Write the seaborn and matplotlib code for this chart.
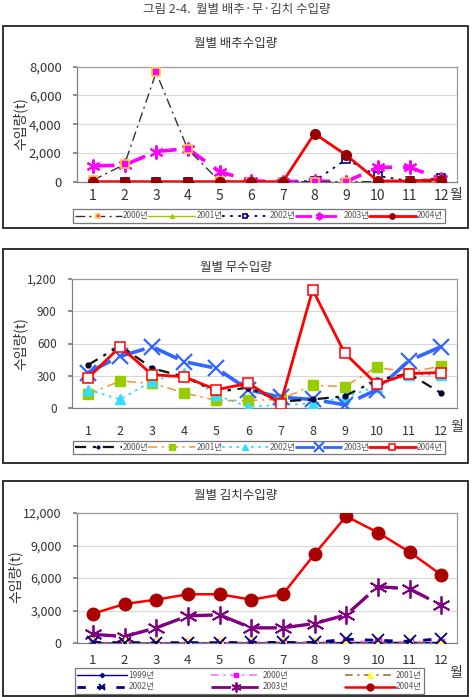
import matplotlib
matplotlib.use("Agg")
import matplotlib.pyplot as plt
import seaborn as sns
from matplotlib.ticker import FuncFormatter, FixedLocator

# =============================
# Data
# =============================
months = list(range(1, 13))
month_labels = [str(m) for m in months]

# 월별 배추수입량 (t)
cabbage_2000 = [100, 1200, 7600, 2250, 50, 0, 0, 0, 0, 0, 0, 0]
cabbage_2001 = [0, 0, 0, 0, 0, 0, 0, 0, 0, 0, 0, 0]
cabbage_2002 = [0, 0, 0, 0, 0, 0, 0, 50, 1550, 400, 50, 250]
cabbage_2003 = [1100, 1150, 2100, 2300, 700, 50, 0, 50, 0, 1000, 1000, 200]
cabbage_2004 = [0, 0, 0, 0, 0, 0, 0, 3350, 1850, 50, 50, 150]

# 월별 무수입량 (t)
radish_2000 = [400, 580, 370, 290, 150, 190, 60, 80, 110, 260, 320, 140]
radish_2001 = [130, 250, 230, 140, 70, 70, 80, 210, 200, 380, 330, 390]
radish_2002 = [170, 80, 250, 330, 120, 10, 30, 40, 100, 200, 310, 310]
radish_2003 = [330, 480, 570, 430, 370, 170, 100, 80, 30, 170, 440, 570]
radish_2004 = [280, 570, 310, 290, 170, 230, 40, 1100, 510, 220, 320, 330]

# 월별 김치수입량 (t)
kimchi_1999 = [0, 0, 0, 0, 0, 0, 0, 0, 50, 50, 50, 50]
kimchi_2000 = [50, 50, 50, 50, 50, 100, 100, 100, 150, 150, 100, 100]
kimchi_2001 = [0, 0, 0, 0, 0, 0, 0, 0, 0, 0, 0, 0]
kimchi_2002 = [50, 30, 30, 30, 30, 50, 50, 50, 350, 250, 150, 400]
kimchi_2003 = [800, 600, 1400, 2500, 2600, 1400, 1400, 1800, 2600, 5200, 5000, 3500]
kimchi_2004 = [2700, 3600, 4000, 4500, 4500, 4000, 4500, 8200, 11700, 10200, 8400, 6300]

fig_title = "그림 2-4.  월별 배추·무·김치 수입량"
panel_titles = ["월별 배추수입량", "월별 무수입량", "월별 김치수입량"]
ylabel = "수입량(t)"

# =============================
# Style
# =============================
sns.set_theme(style="white")
plt.rcParams["font.family"] = ["Noto Sans CJK KR", "DejaVu Sans"]
plt.rcParams["axes.unicode_minus"] = False
TXT = "#333333"

W, H = 473, 697
fig = plt.figure(figsize=(W / 100, H / 100), dpi=100)
fig.patch.set_facecolor("white")


def frac_rect(l, t, r, b):
    return [l / W, 1 - b / H, (r - l) / W, (b - t) / H]


def border(l, t, r, b):
    fig.add_artist(plt.Rectangle((l / W, 1 - b / H), (r - l) / W, (b - t) / H,
                                 transform=fig.transFigure, fill=False,
                                 edgecolor="#222222", lw=1.3))


def draw_series(ax, series):
    for s in series:
        sns.lineplot(x=months, y=s["y"], ax=ax, color=s["color"], lw=s["lw"],
                     linestyle=s["ls"], marker=s["marker"], markersize=s["ms"],
                     markerfacecolor=s["mfc"], markeredgecolor=s["mec"],
                     markeredgewidth=s.get("mew", 1.0), label=s["label"],
                     legend=False, zorder=s.get("z", 3))


def style_axes(ax, ymax, ystep, tick_fs, xpad):
    ax.set_xlim(0.5, 12.5)
    ax.set_ylim(0, ymax)
    yt = list(range(0, ymax + 1, ystep))
    ax.yaxis.set_major_locator(FixedLocator(yt))
    ax.yaxis.set_major_formatter(FuncFormatter(lambda v, p: f"{v:,.0f}"))
    ax.set_xticks(months)
    ax.set_xticklabels(month_labels)
    ax.set_xticks([m + 0.5 for m in range(0, 13)], minor=True)
    ax.tick_params(axis="x", which="major", length=0, pad=xpad, labelsize=tick_fs + 0.5, colors=TXT)
    ax.tick_params(axis="x", which="minor", length=3, color="#808080", direction="out")
    ax.tick_params(axis="y", which="major", length=3, color="#808080", pad=8,
                   labelsize=tick_fs, colors=TXT, left=True)
    ax.grid(True, axis="y", color="#D8D8D8", lw=0.8)
    ax.set_axisbelow(True)
    for sp in ax.spines.values():
        sp.set_visible(True)
        sp.set_color("#9A9A9A")
        sp.set_linewidth(0.9)
    ax.spines["left"].set_color("#808080")
    ax.spines["bottom"].set_color("#808080")
    ax.set_xlabel("")
    ax.set_ylabel("")


def add_legend(ax, order, l, t, r, b, ncol, hlen, lspace=0.15):
    handles, labels = ax.get_legend_handles_labels()
    lut = dict(zip(labels, handles))
    leg = ax.legend([lut[k] for k in order], order, loc="center",
                    bbox_to_anchor=frac_rect(l, t, r, b), bbox_transform=fig.transFigure,
                    mode="expand", ncol=ncol, fontsize=6, handlelength=hlen,
                    handletextpad=0.15, columnspacing=0.4, borderpad=0.25,
                    labelspacing=lspace, frameon=True, fancybox=False, markerscale=0.55,
                    edgecolor="#777777", framealpha=1, numpoints=1, borderaxespad=0)
    leg.get_frame().set_linewidth(0.9)
    for h in leg.legend_handles:
        h.set_linewidth(min(h.get_linewidth(), 2.0))
    for t_ in leg.get_texts():
        t_.set_color("#555555")


fig.text(0.5, 1 - 10 / H, fig_title, ha="center", va="center", fontsize=9, color="#444444")

# =============================
# Panel 1: 배추
# =============================
border(3, 26, 468, 228)
fig.text(236 / W, 1 - 43 / H, panel_titles[0], ha="center", va="center", fontsize=9, color=TXT)
ax1 = fig.add_axes(frac_rect(77, 66.7, 457, 181.7))
s1 = [
    dict(y=cabbage_2000, label="2000년", color="#333333", lw=1.0, ls=(0, (7, 3, 1.5, 3)),
         marker="s", ms=6, mfc="#FF00FF", mec="#FFCC33", mew=1.2, z=4),
    dict(y=cabbage_2001, label="2001년", color="#99CC00", lw=1.0, ls="-",
         marker="^", ms=5, mfc="#99CC00", mec="#99CC00", z=3),
    dict(y=cabbage_2002, label="2002년", color="#000080", lw=1.3, ls=(0, (1.5, 3)),
         marker="s", ms=6, mfc="white", mec="#000080", mew=1.2, z=3),
    dict(y=cabbage_2003, label="2003년", color="#FF00FF", lw=2.6, ls=(0, (6, 3)),
         marker=(6, 2, 0), ms=10, mfc="#FF00FF", mec="#FF00FF", mew=1.5, z=3),
    dict(y=cabbage_2004, label="2004년", color="#FF0000", lw=2.0, ls="-",
         marker="o", ms=7, mfc="#990000", mec="#990000", z=5),
]
draw_series(ax1, s1)
style_axes(ax1, 8000, 2000, 9.5, 5)
fig.text(20 / W, 1 - 124 / H, ylabel, rotation=90, ha="center", va="center", fontsize=10, color=TXT)
fig.text(456 / W, 1 - 195 / H, "월", ha="center", va="center", fontsize=10, color=TXT)
add_legend(ax1, [s["label"] for s in s1], 73, 208, 445, 224, 5, 5.6)

# =============================
# Panel 2: 무
# =============================
border(3, 249, 468, 463)
fig.text(236 / W, 1 - 267 / H, panel_titles[1], ha="center", va="center", fontsize=9, color=TXT)
ax2 = fig.add_axes(frac_rect(72, 279, 457, 408))
s2 = [
    dict(y=radish_2000, label="2000년", color="#111111", lw=1.6, ls=(0, (5, 3, 1.5, 3)),
         marker="o", ms=3.5, mfc="#000033", mec="#000033", z=4),
    dict(y=radish_2001, label="2001년", color="#FF8C33", lw=1.1, ls=(0, (6, 3, 1.5, 3)),
         marker="s", ms=7, mfc="#99CC00", mec="#99CC00", z=3),
    dict(y=radish_2002, label="2002년", color="#33DDFF", lw=1.3, ls=(0, (1.5, 2.5)),
         marker="^", ms=7, mfc="#33DDFF", mec="#33DDFF", z=3),
    dict(y=radish_2003, label="2003년", color="#3366FF", lw=2.6, ls=(0, (7, 3)),
         marker="x", ms=12, mfc="#3366FF", mec="#3366FF", mew=1.6, z=3),
    dict(y=radish_2004, label="2004년", color="#FF0000", lw=2.0, ls="-",
         marker="s", ms=7, mfc="white", mec="#FF0000", mew=1.1, z=5),
]
draw_series(ax2, s2)
style_axes(ax2, 1200, 300, 8.5, 12)
fig.text(20 / W, 1 - 344 / H, ylabel, rotation=90, ha="center", va="center", fontsize=10, color=TXT)
fig.text(457 / W, 1 - 427 / H, "월", ha="center", va="center", fontsize=10, color=TXT)
add_legend(ax2, [s["label"] for s in s2], 73, 439, 445, 456, 5, 5.6)

# =============================
# Panel 3: 김치
# =============================
border(3, 481, 468, 696)
fig.text(236 / W, 1 - 496 / H, panel_titles[2], ha="center", va="center", fontsize=9, color=TXT)
ax3 = fig.add_axes(frac_rect(77, 513, 457, 643))
s3 = [
    dict(y=kimchi_1999, label="1999년", color="#000080", lw=1.0, ls="-",
         marker="D", ms=4, mfc="#000080", mec="#000080", z=3),
    dict(y=kimchi_2000, label="2000년", color="#FF66FF", lw=1.1, ls=(0, (5, 3, 1.5, 3)),
         marker="s", ms=5, mfc="#FF00FF", mec="#FF00FF", z=3),
    dict(y=kimchi_2001, label="2001년", color="#996633", lw=1.1, ls=(0, (5, 3, 1.5, 3)),
         marker="^", ms=8, mfc="#FFFF33", mec="#FFFF33", z=4),
    dict(y=kimchi_2002, label="2002년", color="#000080", lw=2.0, ls=(0, (3, 4)),
         marker="x", ms=9, mfc="#000080", mec="#000080", mew=1.3, z=5),
    dict(y=kimchi_2003, label="2003년", color="#800080", lw=2.4, ls=(0, (7, 3)),
         marker=(6, 2, 0), ms=13, mfc="#800080", mec="#800080", mew=1.3, z=3),
    dict(y=kimchi_2004, label="2004년", color="#FF0000", lw=1.8, ls="-",
         marker="o", ms=9, mfc="#AA0000", mec="#AA0000", z=6),
]
draw_series(ax3, s3)
style_axes(ax3, 12000, 3000, 9, 8)
fig.text(15 / W, 1 - 577 / H, ylabel, rotation=90, ha="center", va="center", fontsize=10, color=TXT)
fig.text(456 / W, 1 - 673 / H, "월", ha="center", va="center", fontsize=10, color=TXT)
order3 = ["1999년", "2002년", "2000년", "2003년", "2001년", "2004년"]
add_legend(ax3, order3, 75, 669, 424, 693, 3, 6.0, lspace=0.35)

fig.savefig("out.png", dpi=100, facecolor="white")
